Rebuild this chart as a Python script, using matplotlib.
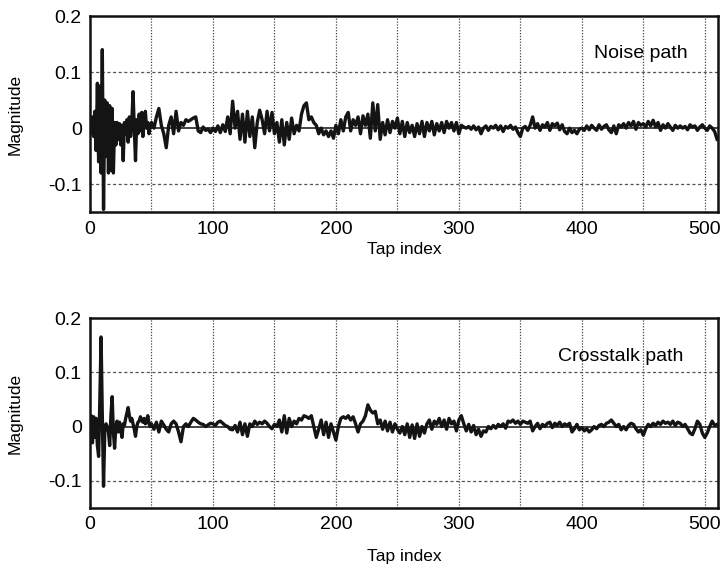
import matplotlib
matplotlib.use("Agg")
import matplotlib.pyplot as plt
import numpy as np

# --- estimated impulse responses (taps 0-49 at every tap, then every 2nd tap) ---
noise_head = [
    0.0, -0.01, 0.02, -0.015, 0.03, -0.04, 0.08, -0.06, 0.075, -0.08,
    0.14, -0.145, 0.05, -0.05, 0.045, -0.08, 0.04, -0.075, 0.035, -0.08,
    0.01, -0.03, 0.01, -0.02, 0.008, -0.03, 0.005, -0.058, 0.01, -0.01,
    0.015, -0.025, 0.02, -0.015, 0.01, 0.065, 0.0, -0.058, 0.015, -0.01,
    0.025, -0.005, 0.028, -0.015, 0.01, 0.03, 0.0, 0.01, -0.01, 0.005,
]
noise_tail = [
    # 50 - 118
    0.01, 0.0, 0.02, 0.035, 0.005, -0.01, -0.035, 0.005, 0.02, -0.01,
    0.03, -0.005, 0.01, 0.005, 0.015, 0.012, 0.015, 0.018, 0.02, -0.005,
    -0.008, 0.002, -0.004, -0.002, -0.008, 0.0, -0.006, 0.004, -0.008, 0.006,
    -0.006, 0.02, -0.01, 0.048, 0.0,
    # 120 - 184
    0.03, -0.02, 0.025, -0.025, 0.03, -0.015, 0.02, -0.035, 0.01, 0.032,
    0.015, -0.01, 0.03, -0.005, 0.028, -0.01, 0.01, -0.025, 0.015, -0.03,
    0.01, -0.02, 0.018, -0.01, 0.005, -0.005, 0.025, 0.04, 0.045, 0.015,
    0.02, 0.01, 0.005,
    # 186 - 316
    -0.01, 0.0, -0.012, -0.005, -0.015, -0.005, -0.018, 0.005, -0.01, 0.015,
    -0.005, 0.02, 0.028, -0.005, 0.015, 0.005, 0.02, -0.01, 0.022, 0.005,
    0.025, -0.018, 0.045, -0.005, 0.042, -0.02, 0.01, -0.012, 0.015, -0.008,
    0.012, 0.0, 0.018, -0.01, 0.012, -0.015, 0.01, -0.008, 0.005, -0.015,
    0.008, -0.01, 0.012, -0.015, 0.01, -0.005, 0.012, -0.012, 0.008, -0.005,
    0.01, -0.008, 0.012, 0.0, 0.01, -0.005, 0.01, -0.01, 0.005, 0.002,
    0.0, 0.003, -0.002, 0.004, -0.003, 0.002,
    # 318 - 510
    -0.01, 0.0, 0.004, -0.004, 0.003, 0.0, 0.005, -0.003, 0.004, -0.006,
    0.003, 0.0, 0.005, -0.002, 0.002, -0.008, -0.015, 0.0, 0.003, -0.004,
    0.005, 0.02, 0.0, 0.008, -0.004, 0.006, 0.002, 0.01, -0.004, 0.008,
    0.004, 0.009, -0.003, 0.006, -0.006, -0.01, 0.0, -0.008, -0.004, -0.01,
    -0.002, 0.0, -0.004, 0.004, -0.003, 0.005, 0.0, -0.004, 0.006, -0.002,
    0.003, 0.006, -0.003, -0.008, 0.004, -0.01, 0.006, 0.002, 0.008, 0.0,
    0.01, 0.004, 0.012, -0.002, 0.01, 0.005, 0.008, 0.002, 0.012, 0.004,
    0.014, 0.002, 0.01, -0.004, 0.006, 0.0, 0.008, 0.002, -0.004, 0.005,
    0.0, 0.004, 0.0, 0.003, -0.003, 0.006, 0.002, 0.004, -0.004, 0.002,
    0.006, 0.0, -0.004, 0.004, 0.0, -0.006, -0.02,
]

cross_head = [
    0.0, 0.02, -0.03, 0.018, -0.02, 0.015, -0.035, -0.055, 0.05, 0.165,
    0.02, -0.11, -0.01, 0.005, 0.0, -0.01, -0.035, 0.02, 0.055, -0.01,
    -0.04, 0.0, 0.01, -0.01, 0.008, -0.005, -0.02, 0.005, 0.002, 0.015,
    0.025, 0.035, 0.02, 0.01, 0.015, 0.005, -0.005, -0.018, 0.0, 0.008,
    0.01, 0.018, 0.012, 0.008, 0.015, 0.005, 0.01, 0.02, 0.005, 0.0,
]
cross_tail = [
    # 50 - 118
    0.005, -0.005, 0.008, -0.01, 0.01, 0.003, -0.005, -0.01, 0.005, 0.01,
    0.005, -0.01, -0.028, 0.0, 0.005, 0.0, 0.008, 0.015, 0.012, 0.008,
    0.005, 0.004, 0.0, 0.003, 0.006, 0.005, 0.002, 0.008, 0.01, 0.006,
    0.002, 0.0, -0.005, -0.006, 0.002,
    # 120 - 184
    -0.01, 0.008, -0.015, 0.005, -0.018, 0.005, 0.0, 0.01, 0.004, 0.008,
    0.005, 0.01, 0.006, 0.0, -0.004, 0.004, 0.0, 0.012, -0.01, 0.02,
    -0.012, 0.015, 0.0, 0.01, 0.005, 0.015, 0.012, 0.02, 0.018, 0.015,
    0.02, 0.0, -0.02,
    # 186 - 316
    -0.005, 0.012, -0.015, 0.008, -0.02, 0.005, -0.01, -0.025, 0.0, 0.015,
    0.018, 0.015, 0.02, 0.012, 0.018, 0.005, -0.01, 0.005, 0.01, 0.02,
    0.04, 0.03, 0.025, 0.028, 0.005, 0.012, -0.005, 0.01, -0.008, 0.008,
    -0.01, 0.005, -0.005, -0.012, 0.0, -0.015, 0.005, -0.02, 0.003, -0.022,
    0.005, -0.018, 0.0, -0.012, 0.005, 0.012, -0.005, 0.01, 0.004, 0.015,
    0.0, 0.012, -0.005, 0.015, 0.005, 0.01, -0.008, 0.012, 0.02, 0.005,
    -0.008, 0.004, -0.01, 0.002, -0.015, -0.005,
    # 318 - 510
    -0.018, -0.008, -0.01, 0.0, -0.004, 0.002, -0.003, 0.004, 0.0, 0.005,
    -0.003, 0.01, 0.008, 0.012, 0.006, 0.01, 0.004, 0.01, 0.008, 0.006,
    0.01, -0.008, 0.0, 0.006, -0.004, 0.004, 0.0, 0.006, 0.008, -0.002,
    0.006, 0.002, 0.008, 0.0, 0.005, 0.002, 0.006, -0.01, -0.004, 0.004,
    -0.006, -0.002, -0.008, -0.004, -0.01, -0.006, 0.0, -0.004, 0.002, 0.004,
    0.0, 0.006, 0.008, 0.012, 0.006, 0.0, 0.004, -0.006, 0.0, -0.006,
    0.002, 0.006, 0.004, -0.004, -0.01, -0.006, -0.016, -0.004, 0.004, 0.0,
    0.006, 0.002, 0.008, 0.004, 0.01, 0.006, 0.008, 0.004, 0.01, 0.002,
    0.008, 0.006, 0.0, 0.004, -0.004, -0.012, -0.015, -0.004, 0.01, 0.004,
    -0.012, -0.02, -0.012, 0.0, 0.01, 0.002, 0.004,
]

panel_labels = ["Noise path", "Crosstalk path"]
x_ticks = [0, 100, 200, 300, 400, 500]
y_ticks = [-0.1, 0, 0.1, 0.2]
y_tick_labels = ["-0.1", "0", "0.1", "0.2"]


def taps_for(head, tail):
    x_head = np.arange(len(head))
    x_tail = np.arange(len(head), len(head) + 2 * len(tail), 2)
    return np.concatenate([x_head, x_tail]), np.array(head + tail)


plt.rcParams["font.family"] = ["Liberation Sans", "DejaVu Sans"]

fig = plt.figure(figsize=(7.23, 5.72), dpi=100)
ax_top = fig.add_axes([0.1245, 0.629, 0.869, 0.343])
ax_bot = fig.add_axes([0.1245, 0.112, 0.869, 0.332])

series = [taps_for(noise_head, noise_tail), taps_for(cross_head, cross_tail)]
text_pos = [(0.951, 0.81), (0.944, 0.80)]
xlabel_y = [-0.153, -0.216]

for ax, (x, y), label, tpos, xly in zip([ax_top, ax_bot], series, panel_labels,
                                        text_pos, xlabel_y):
    ax.axhline(0, color="#222222", lw=1.2, zorder=1)
    ax.plot(x, y, color="#141414", lw=2.4, zorder=3)

    ax.set_xlim(0, 511)
    ax.set_ylim(-0.15, 0.2)
    ax.set_xticks(x_ticks)
    ax.set_yticks(y_ticks)
    ax.set_yticklabels(y_tick_labels)
    ax.tick_params(length=0, labelsize=14, pad=6)

    # dotted verticals every 50 taps, dashed horizontals
    for gx in range(50, 511, 50):
        ax.axvline(gx, color="#444444", lw=0.9, ls=(0, (1, 1.3)), zorder=0)
    for gy in [-0.1, 0.1]:
        ax.axhline(gy, color="#555555", lw=0.9, ls=(0, (2.5, 2)), zorder=0)

    for sp in ax.spines.values():
        sp.set_linewidth(1.8)
        sp.set_color("#111111")

    ax.set_ylabel("Magnitude", fontsize=12.5)
    ax.yaxis.set_label_coords(-0.108, 0.5)
    ax.set_xlabel("Tap index", fontsize=12.5)
    ax.xaxis.set_label_coords(0.5, xly)
    ax.text(tpos[0], tpos[1], label, transform=ax.transAxes,
            ha="right", va="center", fontsize=14)

fig.savefig("out.png", dpi=100)
